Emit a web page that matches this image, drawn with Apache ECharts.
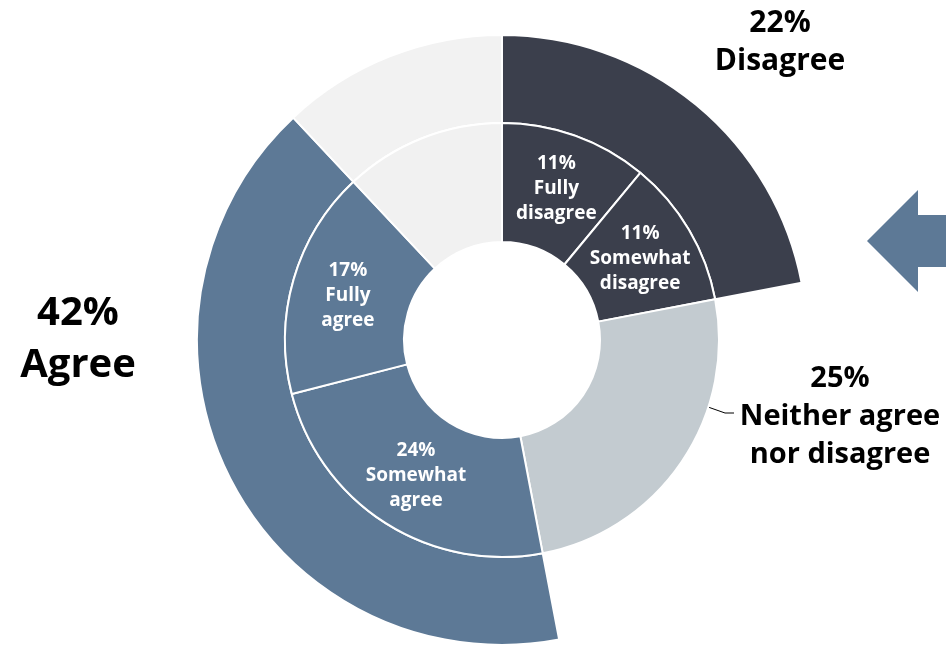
<!DOCTYPE html>
<html>
<head>
<meta charset="utf-8">
<script src="https://cdn.jsdelivr.net/npm/echarts@6/dist/echarts.min.js"></script>
<style>
html,body{margin:0;padding:0;background:#fff;}
#chart{width:946px;height:645px;}
</style>
</head>
<body>
<div id="chart"></div>
<script>
// ---- data ----
const innerNames = ['Fully disagree', 'Somewhat disagree', 'Neither agree nor disagree', 'Somewhat agree', 'Fully agree', 'Other'];
const innerValues = [11, 11, 25, 24, 17, 12];
const innerLabels = ['11%\nFully\ndisagree', '11%\nSomewhat\ndisagree', '25%\nNeither agree\nnor disagree', '24%\nSomewhat\nagree', '17%\nFully\nagree', ''];
const outerNames = ['Disagree', 'Neither agree nor disagree', 'Agree', 'Other'];
const outerValues = [22, 25, 41, 12];
const outerLabels = ['22%\nDisagree', '', '42%\nAgree', ''];

// ---- style ----
const DARK = '#3b3f4c', BLUE = '#5d7996', GREY = '#c3cbd0', LIGHT = '#f1f1f1';
const innerColors = [DARK, DARK, GREY, BLUE, BLUE, LIGHT];
const outerColors = [DARK, 'rgba(0,0,0,0)', BLUE, '#f2f2f2'];
const FONT = '"Open Sans", "Noto Sans", sans-serif';

const chart = echarts.init(document.getElementById('chart'), null, {renderer: 'canvas'});

const innerData = innerValues.map((v, i) => {
  const d = {name: innerNames[i], value: v, itemStyle: {color: innerColors[i]}};
  if (i === 2) {
    d.label = {
      show: true, position: 'outside', formatter: innerLabels[i],
      color: '#000', fontSize: 29, lineHeight: 38, fontWeight: 'bold', align: 'center'
    };
    d.labelLine = {show: false};
  } else if (!innerLabels[i]) {
    d.label = {show: false};
  }
  return d;
});

const outerData = outerValues.map((v, i) => {
  const d = {name: outerNames[i], value: v, itemStyle: {color: outerColors[i]}};
  if (i === 1) d.itemStyle.borderWidth = 0;
  if (!outerLabels[i]) d.label = {show: false};
  if (i === 0) d.label = {fontSize: 30, lineHeight: 38};
  if (i === 2) d.label = {fontSize: 40, lineHeight: 52};
  return d;
});

const option = {
  backgroundColor: '#ffffff',
  animation: false,
  textStyle: {fontFamily: FONT},
  series: [
    {
      type: 'pie',
      name: 'outer',
      center: [502, 340],
      radius: [217, 305],
      startAngle: 90,
      clockwise: true,
      silent: true,
      avoidLabelOverlap: false,
      itemStyle: {borderColor: '#fff', borderWidth: 2},
      label: {
        show: true, position: 'outside', color: '#000', fontWeight: 'bold', fontFamily: FONT,
        align: 'center',
        formatter: p => outerLabels[p.dataIndex]
      },
      labelLine: {show: false},
      labelLayout: function (p) {
        if (p.dataIndex === 0) return {x: 780, y: 42, align: 'center', verticalAlign: 'middle'};
        if (p.dataIndex === 2) return {x: 78, y: 340, align: 'center', verticalAlign: 'middle'};
        return {};
      },
      data: outerData
    },
    {
      type: 'pie',
      name: 'inner',
      center: [502, 340],
      radius: [98, 217],
      startAngle: 90,
      clockwise: true,
      silent: true,
      avoidLabelOverlap: false,
      itemStyle: {borderColor: '#fff', borderWidth: 2},
      label: {
        show: true, position: 'inside', color: '#fff', fontWeight: 'bold', fontFamily: FONT,
        fontSize: 19, lineHeight: 25, align: 'center',
        formatter: p => innerLabels[p.dataIndex]
      },
      labelLine: {show: false},
      labelLayout: function (p) {
        if (p.dataIndex === 2) return {x: 840, y: 417, align: 'center', verticalAlign: 'middle'};
        return {};
      },
      data: innerData
    }
  ],
  graphic: [
    {
      type: 'polygon',
      silent: true,
      shape: {points: [[867, 241], [918, 190], [918, 215], [946, 215], [946, 267], [918, 267], [918, 292]]},
      style: {fill: BLUE}
    },
    {
      type: 'polyline',
      silent: true,
      shape: {points: [[708, 407], [725, 413], [734, 413]]},
      style: {stroke: '#000', lineWidth: 1, fill: null}
    }
  ]
};
chart.setOption(option);
</script>
</body>
</html>
